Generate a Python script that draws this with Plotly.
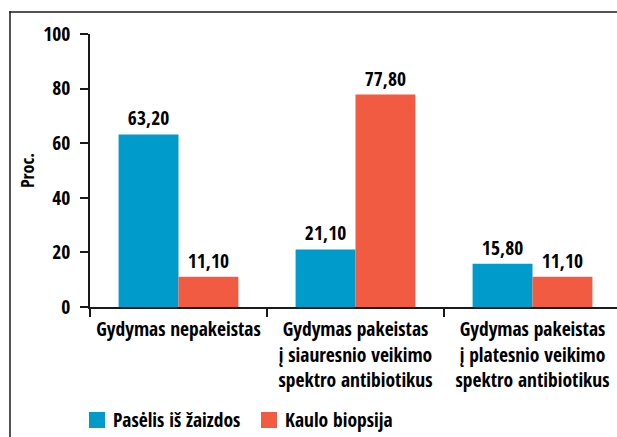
import plotly.graph_objects as go

categories = ["Gydymas nepakeistas",
              "Gydymas pakeistas<br>į siauresnio veikimo<br>spektro antibiotikus",
              "Gydymas pakeistas<br>į platesnio veikimo<br>spektro antibiotikus"]
series_names = ["Pasėlis iš žaizdos", "Kaulo biopsija"]
wound_culture = [63.20, 21.10, 15.80]
bone_biopsy = [11.10, 77.80, 11.10]
y_ticks = [0, 20, 40, 60, 80, 100]
colors = ["#009BCB", "#F15B42"]

W, H = 617, 437
L, T = 90, 34
B = H - 307
R = 0
FONT = "Open Sans Condensed, Roboto Condensed, DejaVu Sans Condensed, sans-serif"
FS = 19.5

pw = W - L - R
ph = H - T - B
cat_w = 177.0

def px_x(px):
    return (px - L) / pw

def px_y(py):
    return (H - B - py) / ph

fig = go.Figure()
for name, vals, col in zip(series_names, [wound_culture, bone_biopsy], colors):
    fig.add_trace(go.Bar(
        x=categories, y=vals, name=name, marker_color=col, marker_line_width=0,
        texttemplate="%{y:.2f}", textposition="outside", cliponaxis=False,
        textfont=dict(family=FONT, size=FS, color="black", weight="bold"),
        showlegend=False,
    ))

frame_col = "#1a1a1a"
shapes = [
    # top border of the outer frame
    dict(type="rect", xref="paper", yref="paper",
         x0=px_x(9.25), x1=px_x(W), y0=px_y(12.75), y1=px_y(11.25),
         fillcolor=frame_col, line=dict(width=0), layer="below"),
    # left border of the outer frame
    dict(type="rect", xref="paper", yref="paper",
         x0=px_x(9.25), x1=px_x(10.75), y0=px_y(H), y1=px_y(11.25),
         fillcolor=frame_col, line=dict(width=0), layer="below"),
]
annotations = []
legend_items = [(89, 111), (261, 283)]
for (sx, tx), name, col in zip(legend_items, series_names, colors):
    shapes.append(dict(type="rect", xref="paper", yref="paper",
                       x0=px_x(sx), x1=px_x(sx + 16), y0=px_y(428), y1=px_y(412),
                       fillcolor=col, line=dict(width=0)))
    annotations.append(dict(text=name, xref="paper", yref="paper", x=px_x(tx), y=px_y(420),
                            xanchor="left", yanchor="middle", showarrow=False,
                            font=dict(family=FONT, size=FS, color="black", weight="bold")))

fig.update_layout(
    width=W, height=H,
    margin=dict(l=L, r=R, t=T, b=B, autoexpand=False),
    paper_bgcolor="white", plot_bgcolor="white",
    barmode="group", bargap=0.323, bargroupgap=0,
    separators=", ",
    shapes=shapes, annotations=annotations,
    xaxis=dict(range=[-0.5, -0.5 + pw / cat_w], showline=True, linecolor="#1a1a1a", linewidth=1.5,
               ticks="outside", tickson="boundaries", ticklen=8, tickwidth=1.5, tickcolor="#1a1a1a",
               tickangle=0, automargin=False, ticklabelstandoff=4,
               tickfont=dict(family=FONT, size=FS, color="black", weight="bold"),
               showgrid=False, zeroline=False),
    yaxis=dict(range=[0, 100], tickvals=y_ticks, showline=True, linecolor="#1a1a1a", linewidth=1.5,
               ticks="outside", ticklen=8, tickwidth=1.5, tickcolor="#1a1a1a", automargin=False,
               ticklabelstandoff=6,
               tickfont=dict(family=FONT, size=FS, color="black", weight="bold"),
               title=dict(text="Proc.", standoff=4,
                          font=dict(family=FONT, size=18, color="black", weight="bold")),
               showgrid=False, zeroline=False),
)

fig.write_html("out.html", config={"displayModeBar": False},
               post_script="document.body.style.margin='0';document.documentElement.style.overflow='hidden';")
